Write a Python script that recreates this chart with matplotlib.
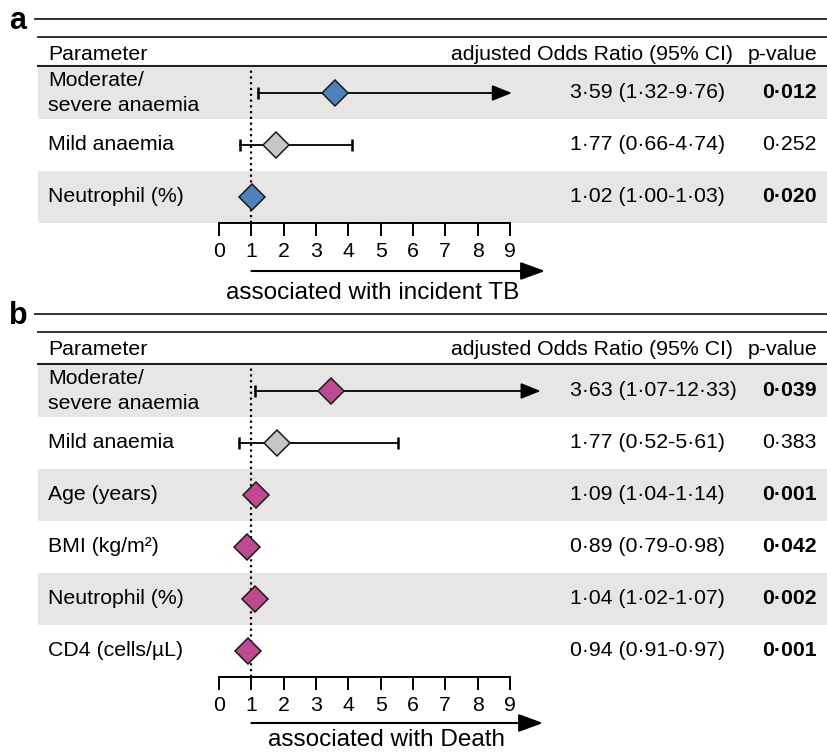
import matplotlib
matplotlib.use("Agg")
import matplotlib.pyplot as plt

plt.rcParams['font.family'] = ['Liberation Sans', 'DejaVu Sans']

# ---------------- data ----------------
ticks = [0, 1, 2, 3, 4, 5, 6, 7, 8, 9]

params_a = ["Moderate/\nsevere anaemia", "Mild anaemia", "Neutrophil (%)"]
or_a = [3.59, 1.76, 1.01]
lo_a = [1.21, 0.65, 1.00]
hi_a = [9.06, 4.11, 1.03]
trunc_a = [True, False, False]
or_text_a = ["3·59 (1·32-9·76)", "1·77 (0·66-4·74)", "1·02 (1·00-1·03)"]
p_a = ["0·012", "0·252", "0·020"]
sig_a = [True, False, True]
kind_a = ["main", "mild", "main"]

params_b = ["Moderate/\nsevere anaemia", "Mild anaemia", "Age (years)",
            "BMI (kg/m²)", "Neutrophil (%)", "CD4 (cells/µL)"]
or_b = [3.46, 1.80, 1.15, 0.88, 1.10, 0.90]
lo_b = [1.12, 0.62, 1.04, 0.79, 1.02, 0.91]
hi_b = [9.95, 5.53, 1.14, 0.98, 1.07, 0.97]
trunc_b = [True, False, False, False, False, False]
or_text_b = ["3·63 (1·07-12·33)", "1·77 (0·52-5·61)", "1·09 (1·04-1·14)",
             "0·89 (0·79-0·98)", "1·04 (1·02-1·07)", "0·94 (0·91-0·97)"]
p_b = ["0·039", "0·383", "0·001", "0·042", "0·002", "0·001"]
sig_b = [True, False, True, True, True, True]
kind_b = ["main", "mild", "main", "main", "main", "main"]

# ---------------- style ----------------
W, H = 828, 752
BLUE = "#4f81bd"
MAGENTA = "#be4b91"
GREY = "#c8c6c4"
ROWBG = "#e8e6e4"
LINEC = "#222222"
FS = 15.3
X0PX, UNIT = 219.0, 32.33   # pixel of OR=0 and pixels per OR unit
AX_L, AX_R = 38, 828


def px2x(px):
    return (px - X0PX) / UNIT


fig = plt.figure(figsize=(W / 100, H / 100), dpi=100)
lay = fig.add_axes([0, 0, 1, 1])
lay.set_xlim(0, W)
lay.set_ylim(H, 0)
lay.axis('off')


def panel(letter, ytop, rows_top, rows_bot, params, est, lo, hi, trunc,
          ortext, pvals, sig, kinds, main_color, arrow_y, label, label_x,
          label_base, arrow_tip):
    # header lines and texts
    lay.text(18, ytop + 10, letter, fontsize=22, fontweight='bold',
             ha='center', va='baseline')
    lay.plot([35, W], [ytop, ytop], color=LINEC, lw=1.3)
    lay.plot([AX_L, W], [ytop + 18, ytop + 18], color=LINEC, lw=1.3)
    lay.plot([AX_L, W], [rows_top - 1, rows_top - 1], color=LINEC, lw=1.5)
    hb = ytop + 41
    lay.text(48, hb, "Parameter", fontsize=FS, ha='left', va='baseline')
    lay.text(733, hb, "adjusted Odds Ratio (95% CI)", fontsize=FS,
             ha='right', va='baseline')
    lay.text(817, hb, "p-value", fontsize=FS, ha='right', va='baseline')

    n = len(params)
    hpx = rows_bot - rows_top
    ax = fig.add_axes([AX_L / W, 1 - rows_bot / H, (AX_R - AX_L) / W, hpx / H])
    ax.set_facecolor('none')
    ax.set_xlim(px2x(AX_L), px2x(AX_R))
    ax.set_ylim(n - 0.5, -0.5)
    for i in range(n):
        if i % 2 == 0:
            ax.axhspan(i - 0.5, i + 0.5, color=ROWBG, zorder=0, lw=0)
    ax.axvline(1, color='black', lw=1.6, ls=(0, (1, 1.6)), zorder=2)

    for s in ['top', 'left', 'right']:
        ax.spines[s].set_visible(False)
    ax.spines['bottom'].set_bounds(0, 9)
    ax.spines['bottom'].set_linewidth(1.4)
    ax.spines['bottom'].set_zorder(5)
    ax.set_yticks([])
    ax.set_xticks(ticks)
    ax.set_xticklabels([str(t) for t in ticks])
    ax.tick_params(axis='x', direction='out', length=9.5, width=1.4,
                   labelsize=FS, pad=4.5)

    for i in range(n):
        c = GREY if kinds[i] == 'mild' else main_color
        if trunc[i]:
            ax.annotate('', xy=(hi[i], i), xytext=(lo[i], i),
                        arrowprops=dict(arrowstyle='-|>,head_length=0.55,head_width=0.22',
                                        mutation_scale=22, color='black',
                                        lw=1.3, shrinkA=0, shrinkB=0),
                        zorder=3)
            ax.plot([lo[i]], [i], marker='|', ms=9, mew=1.8, color='black', zorder=3)
        else:
            ax.plot([lo[i], hi[i]], [i, i], color='black', lw=1.3, zorder=3)
            ax.plot([lo[i], hi[i]], [i, i], ls='none', marker='|', ms=9,
                    mew=1.8, color='black', zorder=3)
        ax.plot([est[i]], [i], marker='D', ms=13.5, mfc=c, mec='#1a1a1a',
                mew=1.1, zorder=4)
        ax.text(px2x(48), i, params[i], fontsize=FS, ha='left', va='center',
                linespacing=1.38)
        ax.text(px2x(570), i, ortext[i], fontsize=FS, ha='left', va='center')
        ax.text(px2x(817), i, pvals[i], fontsize=FS, ha='right', va='center',
                fontweight='bold' if sig[i] else 'normal')

    tr = ax.get_xaxis_transform()
    yf = (rows_bot - arrow_y) / hpx
    ax.annotate('', xy=(arrow_tip, yf), xytext=(1, yf), xycoords=tr,
                textcoords=tr,
                arrowprops=dict(arrowstyle='-|>,head_length=0.6,head_width=0.22',
                                mutation_scale=25, color='black', lw=1.5,
                                shrinkA=0, shrinkB=0),
                annotation_clip=False)
    yl = (rows_bot - label_base) / hpx
    ax.text(label_x, yl, label, transform=tr, fontsize=17.5, ha='center',
            va='baseline', clip_on=False)
    return ax


panel('a', 19, 67, 223, params_a, or_a, lo_a, hi_a, trunc_a, or_text_a,
      p_a, sig_a, kind_a, BLUE, 271, "associated with incident TB",
      px2x(373), 299, px2x(545))
panel('b', 314, 365, 677, params_b, or_b, lo_b, hi_b, trunc_b, or_text_b,
      p_b, sig_b, kind_b, MAGENTA, 723, "associated with Death",
      px2x(387), 746, px2x(543))

fig.savefig("out.png", dpi=100)
